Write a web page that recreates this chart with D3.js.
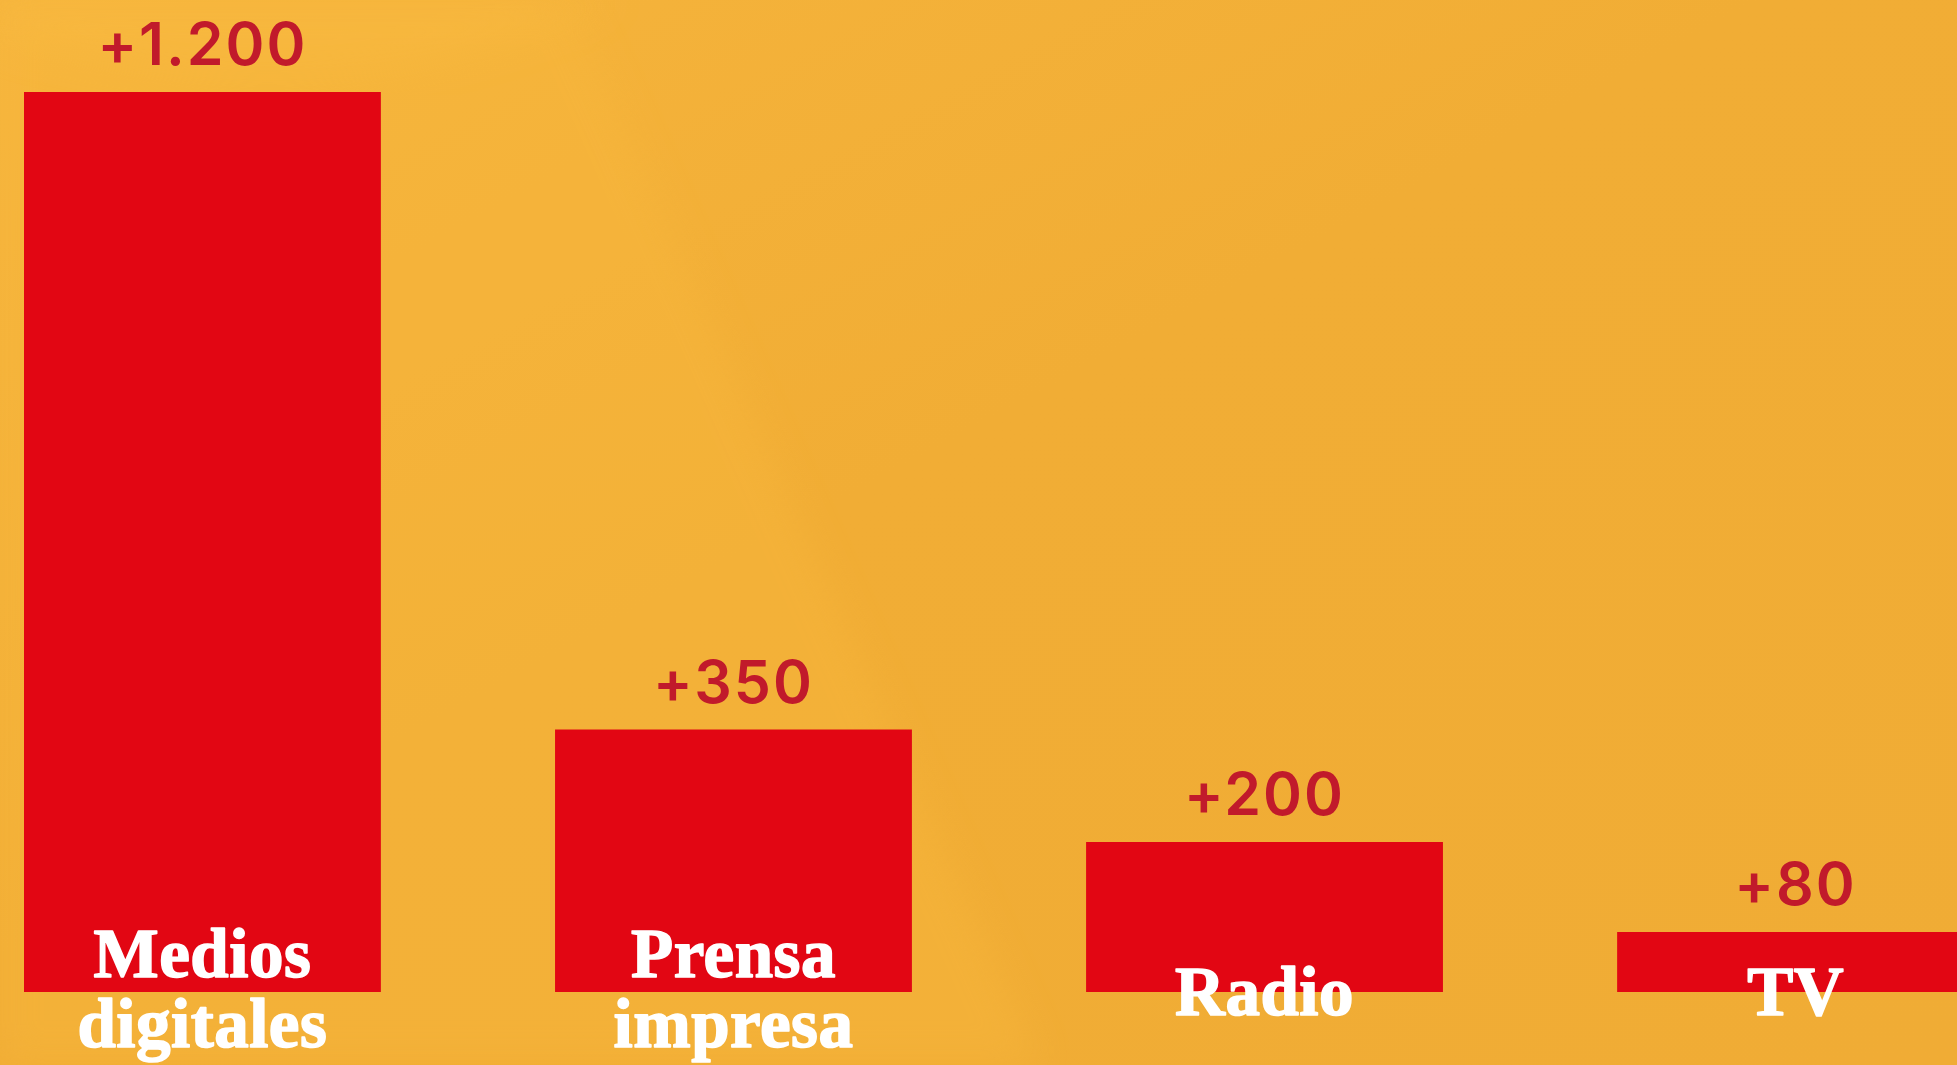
<!DOCTYPE html>
<html>
<head>
<meta charset="utf-8">
<script src="https://cdn.jsdelivr.net/npm/d3@7"></script>
<style>
  html, body { margin: 0; padding: 0; overflow: hidden; background: #f1ad35; }
  svg { display: block; }
</style>
</head>
<body>
<div id="chart"></div>
<script>
// Chart data
const categories = ['Medios digitales', 'Prensa impresa', 'Radio', 'TV'];
const values = [1200, 350, 200, 80];
const valueLabels = ['+1.200', '+350', '+200', '+80'];
const categoryLines = [['Medios', 'digitales'], ['Prensa', 'impresa'], ['Radio'], ['TV']];

const width = 1957;
const height = 1065;
const baseline = 992;

const svg = d3.select('#chart')
  .append('svg')
  .attr('width', width)
  .attr('height', height);

// Background
const defs = svg.append('defs');
const bg = defs.append('linearGradient')
  .attr('id', 'bg')
  .attr('x1', '0%').attr('y1', '0%')
  .attr('x2', '100%').attr('y2', '100%');
bg.append('stop').attr('offset', '0%').attr('stop-color', '#f6b53d');
bg.append('stop').attr('offset', '45%').attr('stop-color', '#f1ad35');
bg.append('stop').attr('offset', '100%').attr('stop-color', '#f0ac35');

const blur = defs.append('filter').attr('id', 'soft')
  .attr('x', '-20%').attr('y', '-20%').attr('width', '140%').attr('height', '140%');
blur.append('feGaussianBlur').attr('stdDeviation', 18);

svg.append('rect')
  .attr('width', width)
  .attr('height', height)
  .attr('fill', 'url(#bg)');

// faint light streaks on the left side
svg.append('path')
  .attr('d', 'M0,0 L570,0 L1040,1065 L0,1065 Z')
  .attr('fill', '#f8b83e')
  .attr('opacity', 0.4)
  .attr('filter', 'url(#soft)');
svg.append('path')
  .attr('d', 'M0,40 C300,120 480,60 620,0 L0,0 Z')
  .attr('fill', '#f9bb42')
  .attr('opacity', 0.35)
  .attr('filter', 'url(#soft)');

// Scales
const x = d3.scaleBand()
  .domain(categories)
  .range([24, 1974])
  .paddingInner(0.328)
  .paddingOuter(0);

const y = d3.scaleLinear()
  .domain([0, 1200])
  .range([baseline, 92]);

const g = svg.append('g').attr('class', 'plot-area');

// Bars
g.selectAll('.bar')
  .data(categories)
  .join('rect')
    .attr('class', 'bar')
    .attr('x', d => x(d))
    .attr('y', (d, i) => y(values[i]))
    .attr('width', x.bandwidth())
    .attr('height', (d, i) => baseline - y(values[i]))
    .attr('fill', '#e20613');

// Value labels
g.selectAll('.value')
  .data(categories)
  .join('text')
    .attr('class', 'value')
    .attr('x', d => x(d) + x.bandwidth() / 2)
    .attr('y', (d, i) => y(values[i]) - 27)
    .attr('text-anchor', 'middle')
    .attr('font-family', 'Inter, "Noto Sans", sans-serif')
    .attr('font-weight', 600)
    .attr('font-size', 59)
    .attr('letter-spacing', 2)
    .attr('fill', '#c11a2b')
    .text((d, i) => valueLabels[i]);

// Category labels
const lineBaselines = { 1: [1015], 2: [977, 1047] };
const cat = g.selectAll('.category')
  .data(categories)
  .join('text')
    .attr('class', 'category')
    .attr('text-anchor', 'middle')
    .attr('font-family', '"Liberation Serif", "DejaVu Serif", serif')
    .attr('font-weight', 700)
    .attr('font-size', 69)
    .attr('letter-spacing', 0.5)
    .attr('fill', '#ffffff')
    .attr('stroke', '#ffffff')
    .attr('stroke-width', 1.6)
    .attr('stroke-linejoin', 'round');

cat.each(function (d, i) {
  const lines = categoryLines[i];
  const ys = lineBaselines[lines.length];
  d3.select(this).selectAll('tspan')
    .data(lines)
    .join('tspan')
      .attr('x', x(d) + x.bandwidth() / 2)
      .attr('y', (l, j) => ys[j])
      .text(l => l);
});
</script>
</body>
</html>
